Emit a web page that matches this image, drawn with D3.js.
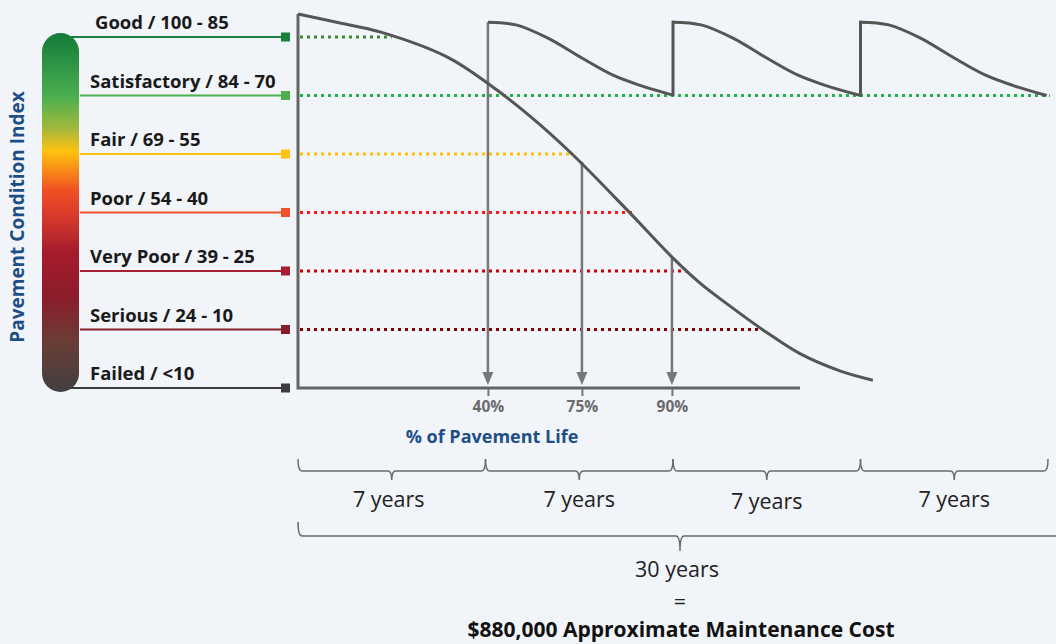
<!DOCTYPE html>
<html>
<head>
<meta charset="utf-8">
<script src="https://cdn.jsdelivr.net/npm/d3@7"></script>
<style>
  html, body { margin: 0; padding: 0; background: #f1f4f8; }
  svg { display: block; font-family: "Open Sans", "Noto Sans", sans-serif; }
</style>
</head>
<body>
<svg id="chart" width="1056" height="644"></svg>
<script>
// ---------------- DATA ----------------
const conditionLabels = ["Good / 100 - 85", "Satisfactory / 84 - 70", "Fair / 69 - 55", "Poor / 54 - 40", "Very Poor / 39 - 25", "Serious / 24 - 10", "Failed / <10"];
const conditionLevels = [85, 70, 55, 40, 25, 10, -5];           // PCI position of each level line
const conditionColors = ["#1b7f3d", "#4cb04f", "#ffc20e", "#f0532a", "#a61e30", "#861d2b", "#3d3d3d"];
const dottedColors    = ["#3d8a2e", "#22b44a", "#ffc000", "#ff1a1a", "#cc0000", "#800000", null];
const dottedEndYears  = [3.5, 28.07, 10.2, 12.47, 14.5, 17.35, null];

// deterioration curve without maintenance [year, PCI]
const decayCurve = [[0, 90.9], [1.57, 88.6], [3.06, 86.3], [5.56, 79.9], [7.17, 72.7], [8.66, 64.7], [10.23, 55.0],
                    [12.39, 39.9], [14.0, 28.3], [15.01, 21.9], [16.13, 16.0], [17.36, 9.9], [18.74, 3.8],
                    [20.23, -0.6], [21.46, -3.0]];
// maintained cycles [year, PCI]
const cycle1 = [[7.09, 88.8], [8.14, 88.1], [9.33, 84.7], [10.6, 79.6], [11.76, 75.2], [12.77, 72.6], [14.0, 70.1]];
const cycle2 = [[14.0, 88.8], [15.05, 88.1], [16.24, 84.7], [17.5, 79.6], [18.67, 75.2], [19.68, 72.6], [21.0, 70.0]];
const cycle3 = [[21.0, 88.8], [22.05, 88.1], [23.24, 84.7], [24.5, 79.6], [25.67, 75.2], [26.68, 72.6], [27.95, 70.0]];

// life markers
const lifeLabels = ["40%", "75%", "90%"];
const lifeYears  = [7.09, 10.6, 13.96];
const lifeArrowTopPci = [88.8, 53.0, 28.3];

// brackets
const periodLabels = ["7 years", "7 years", "7 years", "7 years"];
const periodStarts = [0, 7, 14, 21];
const periodEnds   = [7, 14, 21, 28];
const totalLabel = "30 years";
const costLabel = "$880,000 Approximate Maintenance Cost";

// ---------------- SCALES ----------------
const svg = d3.select("#chart");
const x = d3.scaleLinear().domain([0, 28]).range([298, 1048]);
const y = d3.scaleLinear().domain([-5, 85]).range([388, 37]);

// ---------------- GRADIENT BAR ----------------
const defs = svg.append("defs");
const grad = defs.append("linearGradient").attr("id", "pci").attr("x1", 0).attr("y1", 0).attr("x2", 0).attr("y2", 1);
[[0, "#137a3a"], [0.18, "#4cb04f"], [0.27, "#a8b83a"], [0.33, "#ffc20e"], [0.44, "#f04e23"], [0.51, "#d83a2c"],
 [0.61, "#a51c2c"], [0.74, "#8b1c2b"], [0.86, "#6a3d36"], [1, "#404040"]].forEach(s =>
  grad.append("stop").attr("offset", s[0]).attr("stop-color", s[1]));

svg.append("rect").attr("x", 42).attr("y", 33).attr("width", 37).attr("height", 359)
  .attr("rx", 18.5).attr("fill", "url(#pci)");

svg.append("text")
  .attr("transform", "translate(24,217) rotate(-90)")
  .attr("text-anchor", "middle")
  .attr("font-size", 19).attr("font-weight", 700).attr("fill", "#1d4f86")
  .text("Pavement Condition Index");

// ---------------- LEGEND LINES ----------------
const rows = svg.append("g");
conditionLabels.forEach((lab, i) => {
  const yy = y(conditionLevels[i]);
  rows.append("line").attr("x1", (i === 0 || i === 6) ? 70 : 80).attr("x2", 285)
    .attr("y1", yy).attr("y2", yy).attr("stroke", conditionColors[i]).attr("stroke-width", 2);
  rows.append("rect").attr("x", 281).attr("y", yy - 4.5).attr("width", 9).attr("height", 9)
    .attr("fill", conditionColors[i]);
  rows.append("text").attr("x", i === 0 ? 95 : 90).attr("y", yy - 8)
    .attr("font-size", 18.5).attr("font-weight", 700).attr("fill", "#1a1a1a").text(lab);
  if (dottedColors[i]) {
    rows.append("line").attr("x1", 300).attr("x2", x(dottedEndYears[i]))
      .attr("y1", yy).attr("y2", yy).attr("stroke", dottedColors[i])
      .attr("stroke-width", 3).attr("stroke-dasharray", "3,4");
  }
});

// ---------------- AXES ----------------
svg.append("path").attr("d", `M${x(0)},${y(90.9)} V${y(-5)} H800`)
  .attr("fill", "none").attr("stroke", "#646464").attr("stroke-width", 3);

const xAxis = d3.axisBottom(x).tickValues(lifeYears).tickFormat((d, i) => lifeLabels[i]).tickSize(7).tickPadding(5);
const ax = svg.append("g").attr("transform", `translate(0,${y(-5) + 1})`).call(xAxis);
ax.select(".domain").remove();
ax.selectAll("line").attr("stroke", "#777").attr("stroke-width", 2);
ax.selectAll("text").attr("font-size", 15.5).attr("font-weight", 700).attr("fill", "#6b6b6b")
  .attr("font-family", "Open Sans, sans-serif");

svg.append("text").attr("x", 492).attr("y", 443).attr("text-anchor", "middle")
  .attr("font-size", 18).attr("font-weight", 700).attr("fill", "#1d4f86").text("% of Pavement Life");

// ---------------- ARROWS ----------------
lifeYears.forEach((yr, i) => {
  const xx = x(yr);
  svg.append("line").attr("x1", xx).attr("x2", xx).attr("y1", y(lifeArrowTopPci[i])).attr("y2", 374)
    .attr("stroke", "#777").attr("stroke-width", 2.5);
  svg.append("path").attr("d", `M${xx - 5.5},${372} L${xx + 5.5},${372} L${xx},${385} Z`).attr("fill", "#777");
});

// ---------------- CURVES ----------------
const line = d3.line().x(d => x(d[0])).y(d => y(d[1])).curve(d3.curveCatmullRom.alpha(0.5));
const curveStyle = sel => sel.attr("fill", "none").attr("stroke", "#555").attr("stroke-width", 3);

svg.append("path").datum(decayCurve).attr("d", line).call(curveStyle);
[cycle1, cycle2, cycle3].forEach(c => svg.append("path").datum(c).attr("d", line).call(curveStyle));
// vertical jumps of maintenance
[[cycle1[cycle1.length - 1], cycle2[0]], [cycle2[cycle2.length - 1], cycle3[0]]].forEach(p => {
  svg.append("line").attr("x1", x(p[0][0])).attr("x2", x(p[1][0]))
    .attr("y1", y(p[0][1]) + 1).attr("y2", y(p[1][1]) - 1.5).attr("stroke", "#555").attr("stroke-width", 3);
});

// ---------------- BRACKETS ----------------
const bracket = (x0, x1, top, mid, tip) => {
  const xm = (x0 + x1) / 2;
  return `M${x0},${top} Q${x0},${mid} ${x0 + 4},${mid} H${xm - 4} Q${xm},${mid} ${xm},${tip} Q${xm},${mid} ${xm + 4},${mid} H${x1 - 4} Q${x1},${mid} ${x1},${top}`;
};
const br = svg.append("g").attr("fill", "none").attr("stroke", "#6a6a6a").attr("stroke-width", 1.5);
periodStarts.forEach((s, i) => {
  br.append("path").attr("d", bracket(x(s), x(periodEnds[i]), 459, 471, 480));
  svg.append("text").attr("x", (x(s) + x(periodEnds[i])) / 2 - (i === 0 ? 3 : 0)).attr("y", i === 2 ? 509 : 507)
    .attr("text-anchor", "middle").attr("font-size", 21.5).attr("fill", "#222").text(periodLabels[i]);
});
br.append("path").attr("d", bracket(x(0), 1062, 522, 536, 551));

svg.append("text").attr("x", 677).attr("y", 577).attr("text-anchor", "middle")
  .attr("font-size", 21.5).attr("fill", "#222").text(totalLabel);
svg.append("text").attr("x", 680).attr("y", 609).attr("text-anchor", "middle")
  .attr("font-size", 21.5).attr("fill", "#222").text("=");
svg.append("text").attr("x", 681).attr("y", 637).attr("text-anchor", "middle")
  .attr("font-size", 21).attr("font-weight", 700).attr("fill", "#111").text(costLabel);
</script>
</body>
</html>
